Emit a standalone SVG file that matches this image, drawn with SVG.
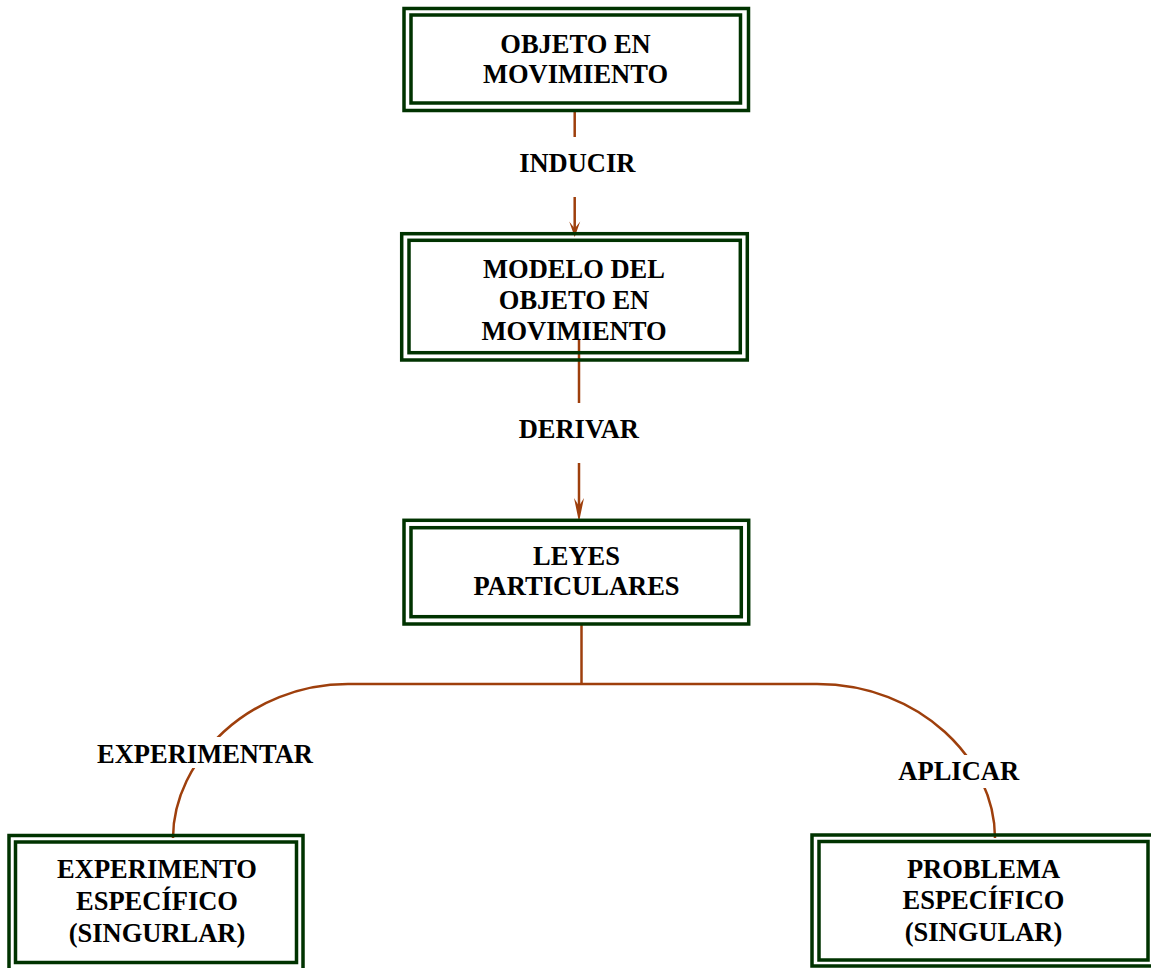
<svg xmlns="http://www.w3.org/2000/svg" width="1151" height="968" viewBox="0 0 1151 968">
<style>
  .box { fill: none; stroke: #003300; stroke-width: 3.5; }
  .bg { fill: #ffffff; }
  .t { font-family: "Liberation Serif", "Times New Roman", serif; font-weight: bold; font-size: 26.5px; fill: #000000; text-anchor: middle; }
  .conn { fill: none; stroke: #9e3f0c; stroke-width: 2.5; }
  .head { fill: #9e3f0c; stroke: none; }
</style>
<rect x="0" y="0" width="1151" height="968" fill="#ffffff"/>

<g id="connectors">
  <line class="conn" x1="574.7" y1="110" x2="574.7" y2="137"/>
  <line class="conn" x1="574.7" y1="197" x2="574.7" y2="230"/>
  <path class="head" d="M574.7,237 L569.2,221.5 L574.7,228.5 L580.2,221.5 Z"/>
  <line class="conn" x1="579" y1="340" x2="579" y2="403"/>
  <line class="conn" x1="579" y1="463" x2="579" y2="512"/>
  <path class="head" d="M579,522 L574,498 L579,506 L584,498 Z"/>
  <line class="conn" x1="581.5" y1="624" x2="581.5" y2="684"/>
  <line class="conn" x1="348" y1="684" x2="817" y2="684"/>
  <path class="conn" d="M348,684 C250,684 173,760 173,838"/>
  <path class="conn" d="M817,684 C920,684 995,760 995,838"/>
</g>

<g id="label-inducir">
  <text class="t" x="577.3" y="172.3">INDUCIR</text>
</g>
<g id="label-derivar">
  <text class="t" x="578.8" y="438.3">DERIVAR</text>
</g>
<g id="label-experimentar">
  <rect class="bg" x="90" y="737" width="230" height="31"/>
  <text class="t" x="205" y="763">EXPERIMENTAR</text>
</g>
<g id="label-aplicar">
  <rect class="bg" x="893" y="755" width="131" height="33"/>
  <text class="t" x="958.7" y="780">APLICAR</text>
</g>

<g id="node-objeto">
  <rect class="box" x="404" y="8.5" width="344.5" height="102"/>
  <rect class="box" x="411" y="15" width="329.5" height="88"/>
  <text class="t" x="575.5" y="52.7">OBJETO EN</text>
  <text class="t" x="575.5" y="83.3">MOVIMIENTO</text>
</g>

<g id="node-modelo">
  <rect class="box" x="401.7" y="233.7" width="345.6" height="126.3"/>
  <rect class="box" x="409" y="240.3" width="331.3" height="112.4"/>
  <text class="t" x="574" y="278">MODELO DEL</text>
  <text class="t" x="574" y="309">OBJETO EN</text>
  <text class="t" x="574" y="340">MOVIMIENTO</text>
</g>

<g id="node-leyes">
  <rect class="box" x="404" y="520.3" width="344.7" height="103.7"/>
  <rect class="box" x="411" y="527.7" width="330.3" height="89"/>
  <text class="t" x="576.5" y="565">LEYES</text>
  <text class="t" x="576.5" y="595">PARTICULARES</text>
</g>

<g id="node-experimento">
  <rect class="box" x="9" y="835.5" width="294" height="140"/>
  <rect class="box" x="15.5" y="842" width="281" height="120.5"/>
  <text class="t" x="157" y="878">EXPERIMENTO</text>
  <text class="t" x="157" y="910">ESPECÍFICO</text>
  <text class="t" x="157" y="941.5">(SINGURLAR)</text>
</g>

<g id="node-problema">
  <rect class="box" x="812" y="835" width="343" height="131"/>
  <rect class="box" x="819" y="841.5" width="329" height="118.5"/>
  <text class="t" x="983.5" y="878">PROBLEMA</text>
  <text class="t" x="983.5" y="909">ESPECÍFICO</text>
  <text class="t" x="983.5" y="940.5">(SINGULAR)</text>
</g>
</svg>
